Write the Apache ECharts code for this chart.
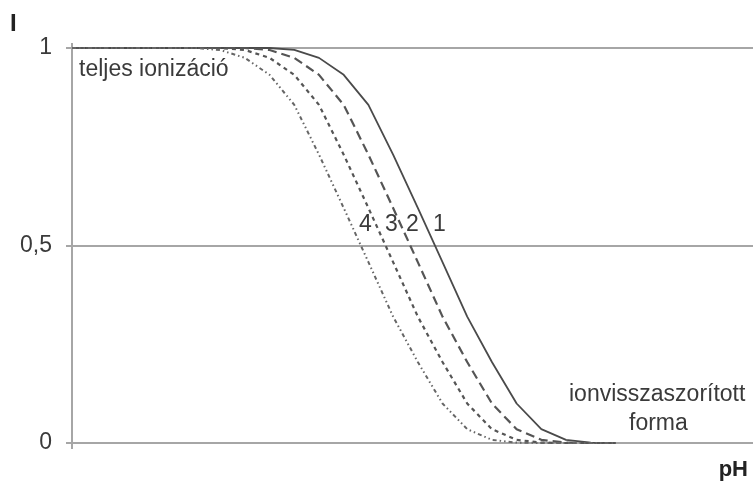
<!DOCTYPE html>
<html>
<head>
<meta charset="utf-8">
<script src="https://cdn.jsdelivr.net/npm/echarts@6/dist/echarts.min.js"></script>
<style>
html,body{margin:0;padding:0;background:#fff;}
#chart{width:753px;height:481px;}
</style>
</head>
<body>
<div id="chart"></div>
<script>
// pH steps (x positions, arbitrary pH grid index)
var pHSteps = [0,1,2,3,4,5,6,7,8,9,10,11,12,13,14,15,16,17,18,19,20,21,22];
// Ionization degree I for four compounds
var curve1 = [1,1,1,1,1,1,1,1,1,0.995,0.975,0.932,0.856,0.73,0.595,0.458,0.32,0.205,0.1,0.035,0.008,0.001,0];
var curve2 = [1,1,1,1,1,1,1,1,0.995,0.975,0.932,0.856,0.73,0.595,0.458,0.32,0.205,0.1,0.035,0.008,0.001,0,0];
var curve3 = [1,1,1,1,1,1,1,0.995,0.975,0.932,0.856,0.73,0.595,0.458,0.32,0.205,0.1,0.035,0.008,0.001,0,0,0];
var curve4 = [1,1,1,1,1,1,0.995,0.975,0.932,0.856,0.73,0.595,0.458,0.32,0.205,0.1,0.035,0.008,0.001,0,0,0,0];
var yTicks = [0, 0.5, 1];
var yTickLabels = ['0', '0,5', '1'];

function pairs(ys){ return pHSteps.map(function(x,i){ return [x, ys[i]]; }); }

var chart = echarts.init(document.getElementById('chart'), null, {renderer:'canvas'});
var gridCol = '#a6a6a6';
var lineCol = '#555555';
var txtCol = '#3a3a3a';
var font = 'Liberation Sans, Arial, sans-serif';

chart.setOption({
  backgroundColor: '#ffffff',
  animation: false,
  grid: {left: 72, right: 0, top: 48, bottom: 38, containLabel: false},
  xAxis: {
    type: 'value', min: 0, max: 27.57,
    axisLine: {show: true, lineStyle: {color: gridCol, width: 2}},
    axisTick: {show: false}, axisLabel: {show: false}, splitLine: {show: false}
  },
  yAxis: {
    type: 'value', min: yTicks[0], max: yTicks[yTicks.length-1], interval: 0.5,
    axisLine: {show: true, lineStyle: {color: gridCol, width: 2}},
    axisTick: {show: true, length: 6, lineStyle: {color: gridCol, width: 2}},
    axisLabel: {
      margin: 20, color: txtCol, fontFamily: font, fontSize: 23,
      formatter: function(v){ var i = yTicks.indexOf(v); return i >= 0 ? yTickLabels[i] : ''; }
    },
    splitLine: {show: true, lineStyle: {color: gridCol, width: 2}}
  },
  series: [
    {type: 'line', data: pairs(curve1), symbol: 'none', z: 5,
     lineStyle: {color: '#4a4a4a', width: 1.8, type: 'solid'}},
    {type: 'line', data: pairs(curve2), symbol: 'none', z: 5,
     lineStyle: {color: lineCol, width: 2.2, type: [9, 5]}},
    {type: 'line', data: pairs(curve3), symbol: 'none', z: 5,
     lineStyle: {color: lineCol, width: 2.2, type: [4, 4]}},
    {type: 'line', data: pairs(curve4), symbol: 'none', z: 5,
     lineStyle: {color: '#666666', width: 2, type: [4, 3, 1.5, 3, 1.5, 3]}}
  ],
  graphic: [
    {type: 'line', shape: {x1: 72, y1: 43, x2: 72, y2: 449}, style: {stroke: gridCol, lineWidth: 2}, z: 0},
    {type: 'text', left: 10, top: 12, style: {text: 'I', font: 'bold 24px ' + font, fill: '#222'}},
    {type: 'text', right: 5, top: 459, style: {text: 'pH', font: 'bold 22px ' + font, fill: '#222'}},
    {type: 'text', left: 79, top: 58, style: {text: 'teljes ionizáció', font: '23px ' + font, fill: txtCol}},
    {type: 'text', left: 569, top: 383, style: {text: 'ionvisszaszorított', font: '23px ' + font, fill: txtCol}},
    {type: 'text', left: 629, top: 412, style: {text: 'forma', font: '23px ' + font, fill: txtCol}},
    {type: 'text', left: 359, top: 213, style: {text: '4', font: '23px ' + font, fill: txtCol}},
    {type: 'text', left: 385, top: 213, style: {text: '3', font: '23px ' + font, fill: txtCol}},
    {type: 'text', left: 406, top: 213, style: {text: '2', font: '23px ' + font, fill: txtCol}},
    {type: 'text', left: 433, top: 213, style: {text: '1', font: '23px ' + font, fill: txtCol}}
  ]
});
</script>
</body>
</html>
